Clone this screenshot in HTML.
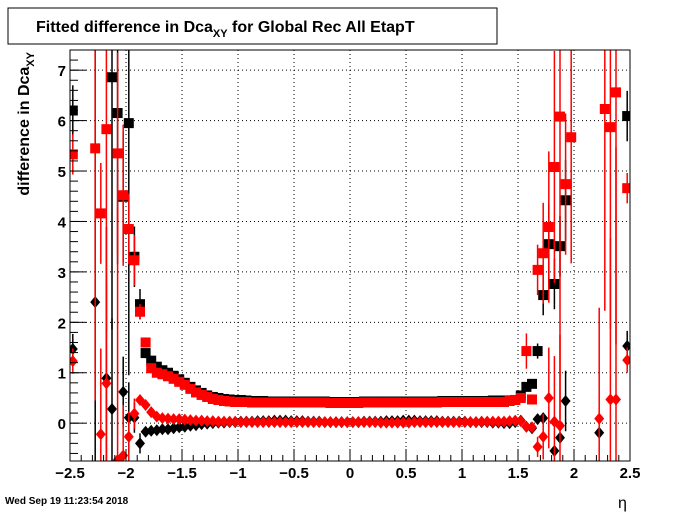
<!DOCTYPE html>
<html><head><meta charset="utf-8"><style>
html,body{margin:0;padding:0;background:#fff;width:700px;height:512px;overflow:hidden;font-family:"Liberation Sans",sans-serif}
svg{display:block}
</style></head><body>
<svg id="c" width="700" height="512" xmlns="http://www.w3.org/2000/svg">
<rect x="8" y="8" width="489" height="36" fill="#fff" stroke="#000"/>
<text x="36" y="32" font-size="16" font-weight="bold">Fitted difference in Dca<tspan font-size="11" dy="5">XY</tspan><tspan dy="-5"> for Global Rec All EtapT</tspan></text>
<text transform="translate(29,52) rotate(-90)" font-size="16" font-weight="bold" text-anchor="end">difference in Dca<tspan font-size="11" dy="5">XY</tspan></text>
<text x="618" y="508" font-size="16">η</text>
<text x="5" y="504" font-size="10" font-weight="bold">Wed Sep 19 11:23:54 2018</text>
<g id="grid"></g><g id="marks"></g><g id="axes"></g>
</svg>
<script>
const xTicks=[-2.5,-2,-1.5,-1,-0.5,0,0.5,1,1.5,2,2.5];
const xTickLabels=["\u22122.5","\u22122","\u22121.5","\u22121","\u22120.5","0","0.5","1","1.5","2","2.5"];
const yTicks=[0,1,2,3,4,5,6,7];
const N=null;
const blackSquares=[6.2,N,N,N,N,N,N,6.86,6.15,4.49,5.95,3.3,2.36,1.39,1.24,1.12,1.05,1.0,0.94,0.87,0.8,0.72,0.65,0.6,0.55,0.52,0.5,0.48,0.47,0.46,0.46,0.45,0.44,0.44,0.44,0.43,0.43,0.43,0.43,0.43,0.43,0.43,0.43,0.43,0.43,0.43,0.42,0.42,0.42,0.42,0.42,0.42,0.43,0.43,0.43,0.43,0.43,0.43,0.43,0.43,0.43,0.43,0.43,0.43,0.43,0.43,0.44,0.44,0.44,0.44,0.44,0.44,0.44,0.44,0.44,0.45,0.45,0.45,0.45,0.46,0.55,0.72,0.78,1.43,2.54,3.55,2.76,3.51,4.42,N,N,N,N,N,N,N,N,N,N,6.09];
const blackSquaresErr=[0.5,0,0,0,0,0,0,5,3,1.3,5,0.6,0.3,0.1,0.05,0.04,0.03,0.03,0.02,0.02,0.02,0.02,0.02,0.02,0.02,0.02,0.02,0.02,0.02,0.02,0.02,0.02,0.02,0.02,0.02,0.02,0.02,0.02,0.02,0.02,0.02,0.02,0.02,0.02,0.02,0.02,0.02,0.02,0.02,0.02,0.02,0.02,0.02,0.02,0.02,0.02,0.02,0.02,0.02,0.02,0.02,0.02,0.02,0.02,0.02,0.02,0.02,0.02,0.02,0.02,0.02,0.02,0.02,0.02,0.02,0.02,0.02,0.02,0.02,0.03,0.05,0.08,0.08,0.15,0.4,0.8,0.5,0.6,0.8,0,0,0,0,0,0,0,0,0,0,0.5];
const redSquares=[5.33,N,N,N,5.45,4.16,5.83,N,5.35,4.52,3.85,3.23,2.21,1.6,1.09,1.0,0.97,0.93,0.88,0.82,0.76,0.68,0.61,0.56,0.52,0.48,0.46,0.44,0.43,0.42,0.42,0.42,0.41,0.41,0.41,0.41,0.41,0.41,0.41,0.41,0.41,0.41,0.41,0.41,0.41,0.41,0.4,0.4,0.4,0.4,0.4,0.4,0.41,0.41,0.41,0.41,0.41,0.41,0.41,0.41,0.41,0.41,0.41,0.41,0.41,0.41,0.42,0.42,0.42,0.42,0.42,0.42,0.42,0.42,0.42,0.42,0.42,0.42,0.44,0.46,0.5,1.43,0.47,3.04,3.37,3.89,5.08,6.08,4.74,5.67,N,N,N,N,N,6.23,5.87,6.56,N,4.66];
const redSquaresErr=[0.4,0,0,0,5,1,4,0,2,1.4,0.7,0.5,0.15,0.1,0.05,0.04,0.03,0.03,0.02,0.02,0.02,0.02,0.02,0.02,0.02,0.02,0.02,0.02,0.02,0.02,0.02,0.02,0.02,0.02,0.02,0.02,0.02,0.02,0.02,0.02,0.02,0.02,0.02,0.02,0.02,0.02,0.02,0.02,0.02,0.02,0.02,0.02,0.02,0.02,0.02,0.02,0.02,0.02,0.02,0.02,0.02,0.02,0.02,0.02,0.02,0.02,0.02,0.02,0.02,0.02,0.02,0.02,0.02,0.02,0.02,0.02,0.02,0.02,0.03,0.04,0.05,0.35,0.1,0.5,1.0,1.5,2.3,6,1.4,2.5,0,0,0,0,0,4,4,5,0,0.3];
const blackDiamonds=[1.47,N,N,N,2.4,N,0.89,0.28,N,0.62,0.11,0.11,-0.4,-0.17,-0.15,-0.14,-0.12,-0.12,-0.1,-0.08,-0.07,-0.05,-0.04,-0.02,-0.01,0,0.01,0.01,0.02,0.02,0.03,0.03,0.03,0.04,0.04,0.04,0.05,0.05,0.05,0.04,0.04,0.04,0.03,0.03,0.03,0.02,0.02,0.02,0.02,0.02,0.02,0.02,0.03,0.03,0.03,0.03,0.04,0.04,0.04,0.05,0.05,0.05,0.04,0.04,0.04,0.04,0.03,0.03,0.03,0.03,0.03,0.02,0.02,0.02,0.02,0.01,0.01,0,0,0.02,0.05,-0.07,-0.1,0.08,0.1,N,-0.55,-0.29,0.44,N,N,N,N,N,-0.19,N,N,N,N,1.53];
const blackDiamondsErr=[0.3,0,0,0,5,0,3,1.8,0,0.7,0.7,0.3,0.2,0.05,0.04,0.03,0.02,0.02,0.02,0.02,0.02,0.02,0.02,0.02,0.02,0.02,0.02,0.02,0.02,0.02,0.02,0.02,0.02,0.02,0.02,0.02,0.02,0.02,0.02,0.02,0.02,0.02,0.02,0.02,0.02,0.02,0.02,0.02,0.02,0.02,0.02,0.02,0.02,0.02,0.02,0.02,0.02,0.02,0.02,0.02,0.02,0.02,0.02,0.02,0.02,0.02,0.02,0.02,0.02,0.02,0.02,0.02,0.02,0.02,0.02,0.02,0.02,0.02,0.02,0.03,0.05,0.08,0.08,0.1,0.1,0,0.1,0.1,0.6,0,0,0,0,0,0.1,0,0,0,0,0.3];
const redDiamonds=[1.23,N,N,N,N,-0.22,0.79,N,-0.73,-0.64,-0.27,0.19,0.46,0.36,0.22,0.13,0.1,0.09,0.08,0.08,0.07,0.06,0.05,0.05,0.04,0.04,0.03,0.03,0.03,0.03,0.02,0.02,0.02,0.02,0.02,0.02,0.02,0.02,0.02,0.02,0.02,0.02,0.02,0.02,0.02,0.02,0.02,0.02,0.02,0.02,0.02,0.02,0.02,0.02,0.02,0.01,0.01,0.01,0.01,0.01,0.01,0.02,0.02,0.02,0.02,0.02,0.02,0.02,0.02,0.02,0.02,0.02,0.02,0.03,0.03,0.03,0.03,0.03,0.04,0.05,0.04,-0.07,-0.08,-0.47,-0.27,0.5,0.03,-0.05,N,N,N,N,N,N,0.09,N,0.47,0.47,N,1.25];
const redDiamondsErr=[0.25,0,0,0,0,1.7,2,0,5,1,0.5,0.3,0.1,0.05,0.04,0.03,0.02,0.02,0.02,0.02,0.02,0.02,0.02,0.02,0.02,0.02,0.02,0.02,0.02,0.02,0.02,0.02,0.02,0.02,0.02,0.02,0.02,0.02,0.02,0.02,0.02,0.02,0.02,0.02,0.02,0.02,0.02,0.02,0.02,0.02,0.02,0.02,0.02,0.02,0.02,0.02,0.02,0.02,0.02,0.02,0.02,0.02,0.02,0.02,0.02,0.02,0.02,0.02,0.02,0.02,0.02,0.02,0.02,0.02,0.02,0.02,0.02,0.02,0.03,0.04,0.05,0.08,0.08,0.2,0.45,1.0,1.3,1.8,0,0,0,0,0,0,2.2,0,3.2,5,0,0.25];

const L=70,R=630,T=50,B=461,XMIN=-2.5,XMAX=2.5,YMIN=-0.75,YMAX=7.4;
const sx=v=>L+(v-XMIN)/(XMAX-XMIN)*(R-L);
const sy=v=>B-(v-YMIN)/(YMAX-YMIN)*(B-T);
const NS="http://www.w3.org/2000/svg";
function mk(tag,attrs,parent){const e=document.createElementNS(NS,tag);for(const k in attrs)e.setAttribute(k,attrs[k]);parent.appendChild(e);return e;}
const grid=document.getElementById('grid'),marks=document.getElementById('marks'),axes=document.getElementById('axes');
const clip=mk('clipPath',{id:'pc'},document.getElementById('c'));mk('rect',{x:L,y:T,width:R-L,height:B-T},clip);
marks.setAttribute('clip-path','url(#pc)');
xTicks.forEach((v,i)=>{
 if(i>0&&i<xTicks.length-1){const g=mk('line',{x1:sx(v),x2:sx(v),y1:T,y2:B,stroke:'#000','stroke-dasharray':'1,3'},grid);
 
 }
 const t=mk('line',{x1:sx(v),x2:sx(v),y1:B,y2:B-12,stroke:'#000'},axes);
 
 
 const lb=mk('text',{x:sx(v),y:B+17,'font-size':15,'font-weight':'bold','text-anchor':'middle'},axes);lb.textContent=xTickLabels[i];
 
 
});
for(let v=-2.5;v<=2.5001;v+=0.1){const m=mk('line',{x1:sx(v),x2:sx(v),y1:B,y2:B-6,stroke:'#000'},axes);
 
 }
yTicks.forEach(v=>{
 const g=mk('line',{x1:L,x2:R,y1:sy(v),y2:sy(v),stroke:'#000','stroke-dasharray':'1,3'},grid);
 
 
 const t=mk('line',{x1:L,x2:L+16,y1:sy(v),y2:sy(v),stroke:'#000'},axes);
 
 
 const lb=mk('text',{x:L-4,y:sy(v)+6,'font-size':15,'font-weight':'bold','text-anchor':'end'},axes);lb.textContent=v;
 
 
});
for(let v=-0.6;v<=7.4;v+=0.2){const m=mk('line',{x1:L,x2:L+8,y1:sy(v),y2:sy(v),stroke:'#000'},axes);
 
 }
const fr=mk('rect',{x:L,y:T,width:R-L,height:B-T,fill:'none',stroke:'#000'},axes);


function draw(vals,errs,color,shape,name){
 vals.forEach((v,i)=>{
  if(v===null)return;
  const cx=sx(-2.475+0.05*i),cy=sy(v),e=errs[i]||0;
  if(e>0.05){const l=mk('line',{x1:cx,x2:cx,y1:sy(v+e),y2:sy(v-e),stroke:color,'stroke-width':1.5},marks);
   
   }
  let m;
  if(shape==='sq')m=mk('rect',{x:cx-5,y:cy-5,width:10,height:10,fill:color},marks);
  else m=mk('polygon',{points:`${cx},${cy-6} ${cx+5},${cy} ${cx},${cy+6} ${cx-5},${cy}`,fill:color},marks);
  
  
 });
}
draw(blackSquares,blackSquaresErr,'#000','sq','black-square');
draw(blackDiamonds,blackDiamondsErr,'#000','di','black-diamond');
draw(redSquares,redSquaresErr,'#f00','sq','red-square');
draw(redDiamonds,redDiamondsErr,'#f00','di','red-diamond');
</script>
</body></html>
